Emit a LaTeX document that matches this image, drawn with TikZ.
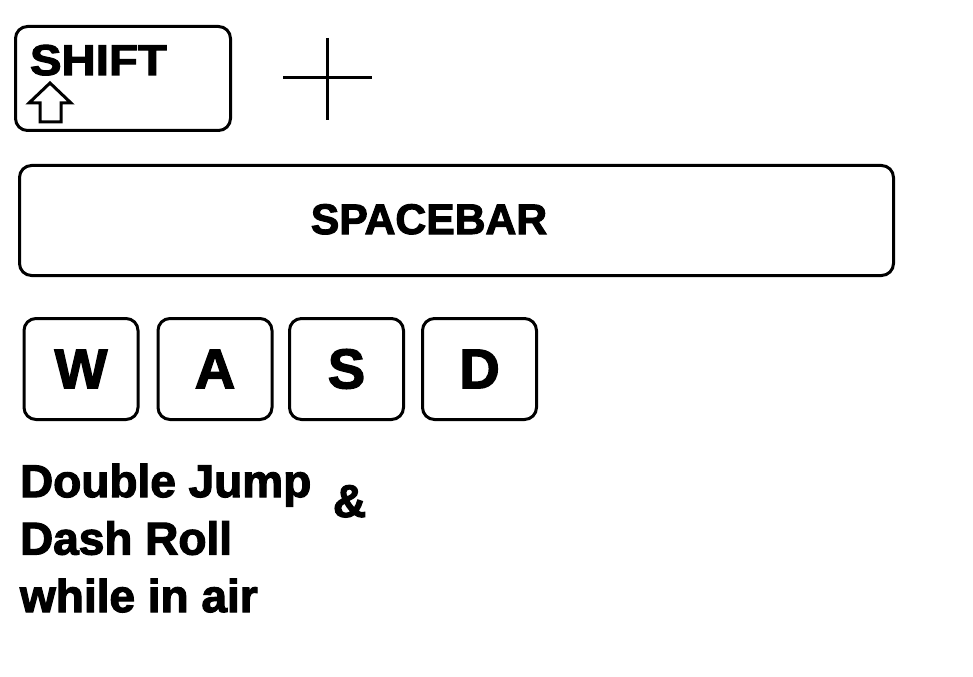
\documentclass[tikz,border=0pt]{standalone}
\usepackage{fontspec}
\setmainfont{Liberation Sans}[BoldFeatures={FakeBold=2.5}]
\usepackage{graphicx}
\begin{document}
\begin{tikzpicture}[x=0.75pt,y=-0.75pt,
  keybox/.style={draw=black,line width=2.25pt,rounded corners=9pt,fill=white,inner sep=0pt,
    minimum width=85.5pt,minimum height=75.75pt,font=\fontsize{42}{42}\selectfont\bfseries},
  lbl/.style={inner sep=0pt,outer sep=0pt}]
\useasboundingbox (0,0) rectangle (973,677);
\fill[white] (0,0) rectangle (973,677);
% shift key
\node[keybox,minimum width=161.25pt,minimum height=78pt] (shift) at (123,78.5) {};
\node[lbl,anchor=base west,font=\fontsize{32.3}{32.3}\selectfont\bfseries] (shiftlabel) at (30,75) {\scalebox{1.1}[1]{SHIFT}};
\draw[line width=2.25pt,line join=miter] (50,83) -- (71,103) -- (61,103) -- (61,122) -- (40,122) -- (40,103) -- (29,103) -- cycle;
% plus
\coordinate (pl) at (283,78); \coordinate (pr) at (372,78);
\coordinate (pt) at (327,38); \coordinate (pb) at (327,120);
\draw[line width=2.25pt] (pl) -- (pr);
\draw[line width=2.25pt] (pt) -- (pb);
% spacebar
\node[keybox,minimum width=655.5pt,minimum height=82.5pt] (space) at (456.5,220.5) {};
\node[lbl,anchor=base,font=\fontsize{32}{32}\selectfont\bfseries] (spacelabel) at (429,234) {SPACEBAR};
% WASD
\node[keybox] (w) at (81,369) {W};
\node[keybox] (a) at (215,369) {A};
\node[keybox] (s) at (346.5,369) {S};
\node[keybox] (d) at (479.5,369) {D};
% description
\node[lbl,anchor=base west,align=left,font=\fontsize{34.5}{43.1}\selectfont\bfseries] (desc) at (20,612) {Double Jump\\Dash Roll\\while in air};
\node[lbl,anchor=base west,font=\fontsize{34.5}{34.5}\selectfont\bfseries] (amp) at (333,517) {\&};
\end{tikzpicture}
\end{document}
